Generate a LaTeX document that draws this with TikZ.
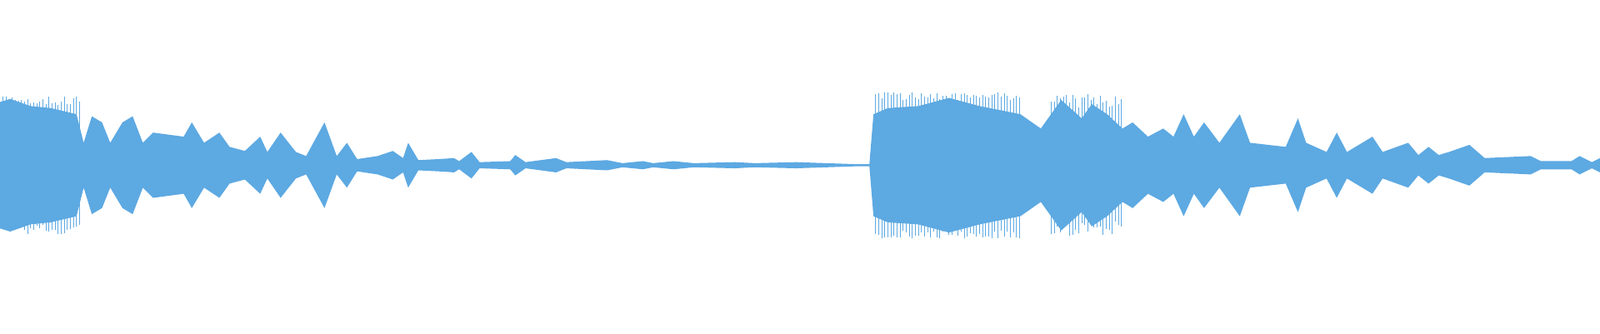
\documentclass[tikz,border=0pt]{standalone}
\begin{document}
\begin{tikzpicture}[x=0.6122pt,y=0.6122pt]
\definecolor{wave}{HTML}{5DA9E2}
\useasboundingbox (0,0) rectangle (1568,-327);
\def\env{(0,62) (10,65) (30,58) (50,56) (75,50) (82,22) (90,48) (100,42) (108,22) (120,42) (130,48) (140,22) (150,32) (180,28) (188,42) (200,22) (215,32) (225,18) (240,14) (255,28) (262,13) (275,32) (290,13) (300,9) (318,42) (330,9) (340,22) (350,6) (370,9) (385,14) (395,7) (400,22) (410,5) (430,6) (445,7) (450,4) (462,13) (470,3) (500,4) (505,10) (515,3) (545,7) (555,3) (595,5) (610,2) (630,4) (640,2) (660,4) (680,2) (720,3) (740,2) (780,3) (840,1) (852,1) (856,50) (870,56) (900,58) (930,66) (960,58) (1000,50) (1020,36) (1040,64) (1060,46) (1070,60) (1085,50) (1100,36) (1110,42) (1125,28) (1140,36) (1150,28) (1160,50) (1170,28) (1180,42) (1195,22) (1215,50) (1225,22) (1260,18) (1272,46) (1280,22) (1300,13) (1310,32) (1320,13) (1345,28) (1355,13) (1380,22) (1390,10) (1400,18) (1410,10) (1420,13) (1440,20) (1455,7) (1500,9) (1510,4) (1540,4) (1548,9) (1560,3) (1568,7)}
\begin{scope}[shift={(0,-162)}]
\fill[wave] (0,0) -- plot coordinates \env -- (1568,0) -- cycle;
\begin{scope}[yscale=-1]
\fill[wave] (0,0) -- plot coordinates \env -- (1568,0) -- cycle;
\end{scope}
\draw[wave,line width=0.6pt] (0,0) -- (1568,0);
\foreach \x in {0,3,...,80} \draw[wave,line width=0.4pt] (\x,-68+10*rnd) -- (\x,68-10*rnd);
\foreach \x in {858,861,...,1000} \draw[wave,line width=0.4pt] (\x,-64-8*rnd) -- (\x,64+8*rnd);
\foreach \x in {1030,1033,...,1100} \draw[wave,line width=0.4pt] (\x,-55-15*rnd) -- (\x,55+15*rnd);
\end{scope}
\end{tikzpicture}
\end{document}
